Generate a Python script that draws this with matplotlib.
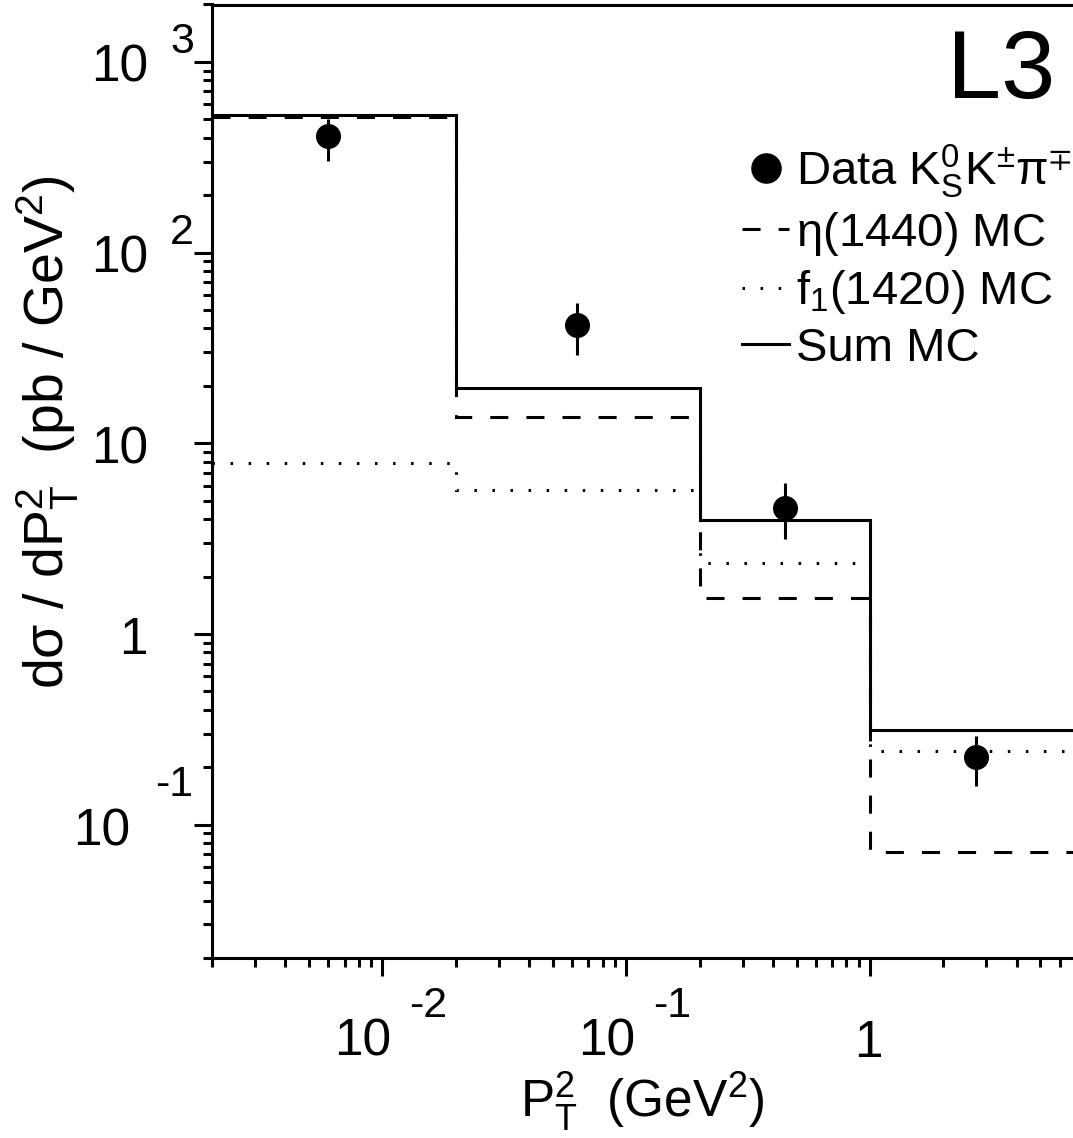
import matplotlib
matplotlib.use('Agg')
import matplotlib.pyplot as plt
from matplotlib.lines import Line2D
from matplotlib.ticker import LogLocator, NullFormatter

plt.rcParams['font.family'] = ['Liberation Sans', 'DejaVu Sans']
plt.rcParams['mathtext.fontset'] = 'custom'
plt.rcParams['mathtext.rm'] = 'Liberation Sans'
plt.rcParams['mathtext.it'] = 'Liberation Sans'
plt.rcParams['mathtext.sf'] = 'Liberation Sans'
plt.rcParams['mathtext.default'] = 'regular'
plt.rcParams['lines.scale_dashes'] = False

# P_T^2 bin edges (GeV^2) and MC histograms
edges = [0.002, 0.02, 0.2, 1.0, 7.5]
eta_mc = [515, 13.8, 1.54, 0.072]
f1_mc = [7.9, 5.7, 2.35, 0.244]
sum_mc = [525, 19.6, 3.95, 0.314]

# data points with error bar ends
data_x = [0.006, 0.063, 0.45, 2.72]
data_y = [410, 41.5, 4.6, 0.227]
data_lo = [303, 28.9, 3.14, 0.160]
data_hi = [503, 54.7, 6.17, 0.292]

# axis tick labels: (value, mantissa, exponent)
xticks = [(0.01, '10', '-2'), (0.1, '10', '-1'), (1, '1', None)]
yticks = [(1000, '10', '3'), (100, '10', '2'), (10, '10', None),
          (1, '1', None), (0.1, '10', '-1')]

W, H = 1073, 1138
fig = plt.figure(figsize=(W / 100, H / 100), dpi=100)
ax = fig.add_axes([212 / W, (H - 958) / H, (1076 - 212) / W, (958 - 4.5) / H])
ax.set_xscale('log')
ax.set_yscale('log')
ax.set_xlim(0.002, 7.0)
ax.set_ylim(0.02, 2000)

lw = 2.2
dash = (0, (13, 13))
dot = (0, (1.8, 11.2))
ax.stairs(eta_mc, edges, baseline=None, color='black', lw=lw, linestyle=dash)
ax.stairs(f1_mc, edges, baseline=None, color='black', lw=lw, linestyle=dot)
ax.stairs(sum_mc, edges, baseline=None, color='black', lw=lw)

yerr = [[y - lo for y, lo in zip(data_y, data_lo)],
        [hi - y for y, hi in zip(data_y, data_hi)]]
ax.errorbar(data_x, data_y, yerr=yerr, fmt='o', color='black', ms=17,
            elinewidth=lw, capsize=0)

# axes style
for s in ['left', 'bottom', 'top']:
    ax.spines[s].set_linewidth(lw)
ax.spines['right'].set_visible(False)
ax.tick_params(which='major', direction='out', length=13, width=lw,
               top=False, right=False)
ax.tick_params(which='minor', direction='out', length=6.5, width=lw,
               top=False, right=False)
ax.xaxis.set_minor_locator(LogLocator(base=10, subs=range(2, 10), numticks=20))
ax.yaxis.set_minor_locator(LogLocator(base=10, subs=range(2, 10), numticks=20))
for axis in [ax.xaxis, ax.yaxis]:
    axis.set_major_formatter(NullFormatter())
    axis.set_minor_formatter(NullFormatter())

fs = 37
efs = 31


def lab(txt, xy, coords, off, size, ha):
    ax.annotate(txt, xy=xy, xycoords=coords, xytext=off,
                textcoords='offset pixels', fontsize=size, ha=ha,
                va='baseline', annotation_clip=False)


for v, m, e in yticks:
    c = ('axes fraction', 'data')
    if e is None:
        lab(m, (0, v), c, (-64, -20), fs, 'right')
    elif e.startswith('-'):
        lab(m, (0, v), c, (-82, -21), fs, 'right')
        lab(e, (0, v), c, (-57, 29), efs, 'left')
    else:
        lab(m, (0, v), c, (-64, -20), fs, 'right')
        lab(e, (0, v), c, (-42, 9), efs, 'left')

for v, m, e in xticks:
    c = ('data', 'axes fraction')
    if e is None:
        lab(m, (v, 0), c, (-2, -99), fs, 'center')
    else:
        lab(m, (v, 0), c, (9, -97), fs, 'right')
        lab(e, (v, 0), c, (27, -59), efs, 'left')

fig.text(48 / W, 1 - 432 / H, r'd$\sigma$ / dP$_{T}^{2}$  (pb / GeV$^{2}$)',
         rotation=90, ha='center', va='center', fontsize=40)
fig.text(642 / W, 1 - 1117 / H, r'P$_{T}^{2}$  (GeV$^{2}$)',
         ha='center', va='baseline', fontsize=fs)
fig.text(1055 / W, 1 - 98 / H, 'L3', ha='right', va='baseline', fontsize=70)

handles = [
    Line2D([], [], marker='o', ls='none', color='black', ms=21),
    Line2D([], [], color='black', lw=lw, linestyle=dash),
    Line2D([], [], color='black', lw=lw, linestyle=dot),
    Line2D([], [], color='black', lw=lw),
]
labels = [r'Data K$_{S}^{0}$K$^{\pm}$$\pi^{\mp}$', r'$\eta$(1440) MC',
          r'f$_{1}$(1420) MC', 'Sum MC']
ax.legend(handles, labels, loc='upper left', frameon=False, fontsize=34,
          bbox_to_anchor=(742 / W, 1 - 142 / H), bbox_transform=fig.transFigure,
          borderpad=0, borderaxespad=0, handlelength=1.0, handletextpad=0.15,
          labelspacing=0.22)

fig.savefig('out.png', dpi=100)
